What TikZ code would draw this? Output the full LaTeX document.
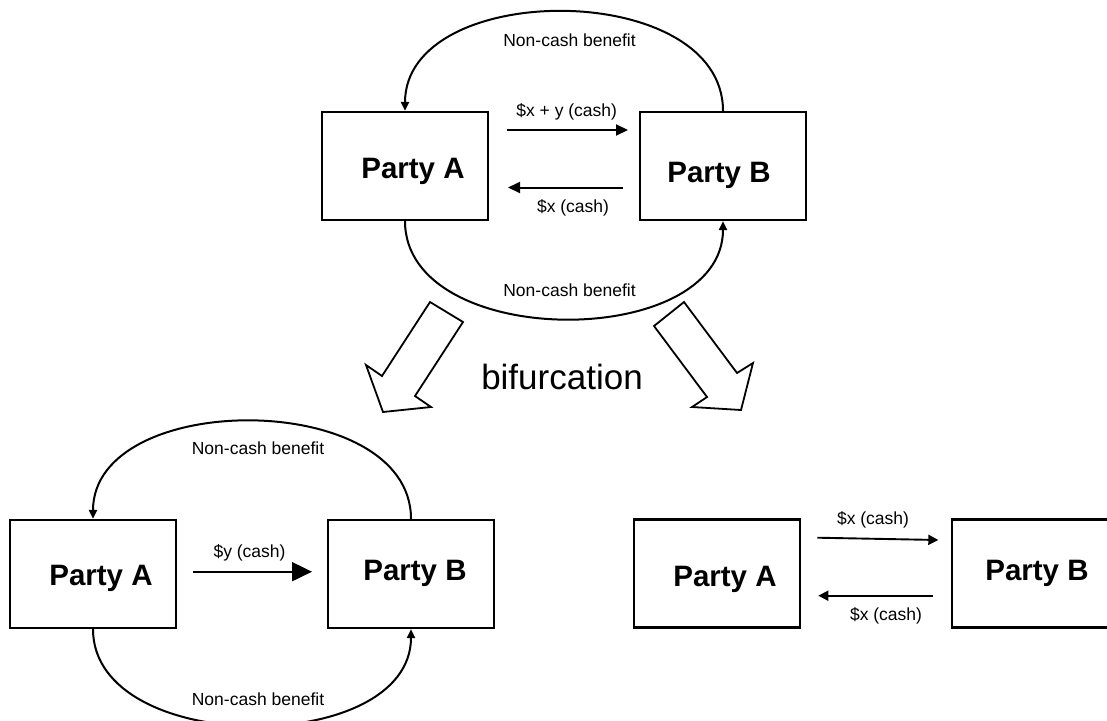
\documentclass[tikz,border=0pt]{standalone}
\usepackage{fontspec}
\setmainfont{Liberation Sans}
\usetikzlibrary{arrows.meta,calc}

\begin{document}
\begin{tikzpicture}[x=1pt,y=-1pt,
  partybox/.style={draw,line width=2.2pt,minimum width=166pt,minimum height=108pt,inner sep=0pt},
  partyname/.style={anchor=base,inner sep=0pt,font=\fontsize{29.5}{30}\selectfont\bfseries},
  smalllabel/.style={anchor=base,inner sep=0pt,font=\fontsize{17.5}{18}\selectfont},
  benefit/.style={line width=2pt,-{Triangle[length=9pt,width=8pt]}},
  cash/.style={line width=2pt,-{Triangle[length=12pt,width=11pt]}},
  bigcash/.style={line width=2pt,-{Triangle[length=20pt,width=19pt]}},
  smallcash/.style={line width=1.9pt,-{Triangle[length=10pt,width=10pt]}},
  blockarrow/.style={draw,line width=1.8pt,line join=miter,fill=white}]

\clip (0,0) rectangle (1107,720);
\fill[white] (0,0) rectangle (1107,720);

% ---------- original arrangement ----------
\node[partybox] (tA) at (405,166) {};
\node[partybox] (tB) at (723,166) {};
\node[partyname] (tAname) at (413,178) {Party A};
\node[partyname] (tBname) at (719,182) {Party B};

\draw[benefit] (tB.north) .. controls ($(tB.north)+(0,-132)$) and ($(tA.north)+(0,-132)$) .. (tA.north);
\draw[benefit] (tA.south) .. controls ($(tA.south)+(0,130)$) and ($(tB.south)+(0,130)$) .. (tB.south);
\node[smalllabel] (tNtop) at (569.5,46.7) {Non-cash benefit};
\node[smalllabel] (tNbot) at (569.5,296) {Non-cash benefit};

\coordinate (tc1s) at (507,130);
\coordinate (tc1e) at (628,130);
\coordinate (tc2s) at (623,187.5);
\coordinate (tc2e) at (508,187.5);
\draw[cash] (tc1s) -- (tc1e);
\draw[cash] (tc2s) -- (tc2e);
\node[smalllabel] (tcash1) at (566.7,116.7) {\$x + y (cash)};
\node[smalllabel] (tcash2) at (573,212) {\$x (cash)};

% ---------- bifurcation ----------
\draw[blockarrow] (430,302) -- (463,322) -- (415,396) -- (431,407) -- (383,412)
  -- (366,365) -- (382,376) -- cycle;
\draw[blockarrow] (684,302) -- (737,373) -- (753,363) -- (741,410) -- (692,407)
  -- (707,397) -- (654,326) -- cycle;
\node[anchor=base,inner sep=0pt,font=\fontsize{35}{36}\selectfont] (bif) at (562,389) {bifurcation};

% ---------- non-cash part ----------
\node[partybox] (lA) at (93,574) {};
\node[partybox] (lB) at (411,574) {};
\node[partyname] (lAname) at (101,585.7) {Party A};
\node[partyname] (lBname) at (415,580) {Party B};

\draw[benefit] (lB.north) .. controls ($(lB.north)+(0,-130)$) and ($(lA.north)+(0,-130)$) .. (lA.north);
\draw[benefit] (lA.south) .. controls ($(lA.south)+(0,128)$) and ($(lB.south)+(0,128)$) .. (lB.south);
\node[smalllabel] (lNtop) at (258,454) {Non-cash benefit};
\node[smalllabel] (lNbot) at (258,705) {Non-cash benefit};

\coordinate (lcs) at (193,571.7);
\coordinate (lce) at (312,571.7);
\draw[bigcash] (lcs) -- (lce);
\node[smalllabel] (lcash) at (249.5,557.3) {\$y (cash)};

% ---------- cash part ----------
\node[partybox] (rA) at (717,573.5) {};
\node[partybox] (rB) at (1035,573.5) {};
\node[partyname] (rAname) at (725,586.7) {Party A};
\node[partyname] (rBname) at (1037,580) {Party B};

\coordinate (rc1s) at (817.3,537.7);
\coordinate (rc1e) at (938.3,540);
\coordinate (rc2s) at (933.3,595.7);
\coordinate (rc2e) at (818.3,595.7);
\draw[smallcash] (rc1s) -- (rc1e);
\draw[smallcash] (rc2s) -- (rc2e);
\node[smalllabel] (rcash1) at (873,524.3) {\$x (cash)};
\node[smalllabel] (rcash2) at (886,620) {\$x (cash)};

\end{tikzpicture}
\end{document}
